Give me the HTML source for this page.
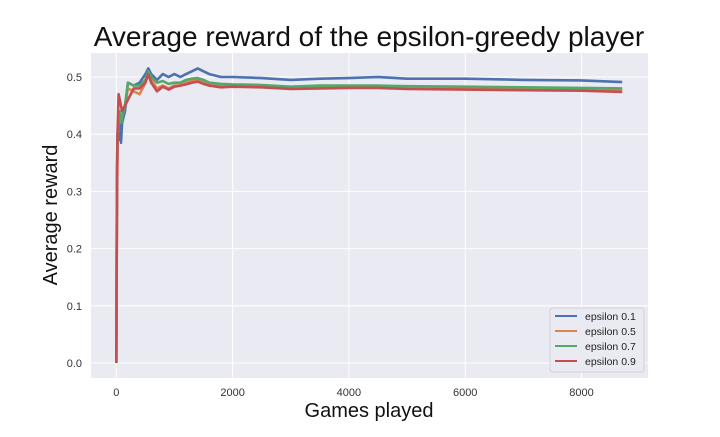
<!DOCTYPE html>
<html><head><meta charset="utf-8"><style>
body{margin:0;background:#fff;font-family:"Liberation Sans",sans-serif}
svg text{font-family:"Liberation Sans",sans-serif}
</style></head><body>
<svg id="c" width="720" height="432">
<text x="369" y="46" font-size="28" text-anchor="middle" fill="#111">Average reward of the epsilon-greedy player</text>
<rect x="91" y="53" width="557" height="325" fill="#eaeaf2"/>
<g id="grid"></g><g id="series"></g>
<text x="369" y="417" font-size="20" text-anchor="middle" fill="#111">Games played</text>
<text transform="translate(57,215) rotate(-90)" font-size="20" text-anchor="middle" fill="#111">Average reward</text>
<g id="legend">
<rect x="550" y="308" width="94" height="64" rx="3" fill="#eaeaf2" stroke="#ccc" stroke-opacity="0.8"/>
</g>
</svg>
<script>
const games=[0,10,20,40,60,80,100,150,200,300,400,500,550,600,700,800,900,1000,1100,1200,1300,1400,1500,1600,1800,2000,2500,3000,3500,4000,4500,5000,6000,7000,8000,8700];
const eps01=[0,0.33,0.40,0.39,0.42,0.385,0.42,0.44,0.49,0.485,0.49,0.505,0.515,0.505,0.495,0.505,0.50,0.505,0.50,0.505,0.51,0.515,0.51,0.505,0.50,0.50,0.498,0.495,0.497,0.498,0.50,0.497,0.497,0.495,0.494,0.491];
const eps05=[0,0.26,0.38,0.44,0.43,0.42,0.43,0.45,0.48,0.475,0.47,0.49,0.505,0.495,0.48,0.485,0.48,0.485,0.485,0.49,0.493,0.495,0.49,0.488,0.485,0.485,0.484,0.481,0.483,0.484,0.483,0.481,0.482,0.480,0.479,0.478];
const eps07=[0,0.30,0.39,0.43,0.44,0.42,0.43,0.45,0.49,0.485,0.485,0.495,0.51,0.50,0.49,0.493,0.488,0.49,0.49,0.495,0.497,0.498,0.495,0.49,0.488,0.487,0.486,0.483,0.485,0.485,0.485,0.484,0.483,0.482,0.481,0.480];
const eps09=[0,0.25,0.40,0.47,0.46,0.45,0.44,0.45,0.46,0.48,0.48,0.49,0.505,0.49,0.475,0.483,0.478,0.483,0.485,0.487,0.49,0.492,0.488,0.485,0.482,0.483,0.482,0.479,0.48,0.481,0.481,0.479,0.478,0.477,0.476,0.474];
const xTicks=[0,2000,4000,6000,8000];
const yTicks=[0.0,0.1,0.2,0.3,0.4,0.5];
const seriesNames=["epsilon 0.1","epsilon 0.5","epsilon 0.7","epsilon 0.9"];
const colors=["#4c72b0","#dd8452","#55a868","#c44e52"];
const NS="http://www.w3.org/2000/svg";
const xs=v=>116.3+v*(116.3/2000);
const ys=v=>363-v*572;
const grid=document.getElementById('grid');
function mk(tag,attrs,parent){const e=document.createElementNS(NS,tag);for(const k in attrs)e.setAttribute(k,attrs[k]);parent.appendChild(e);return e;}
xTicks.forEach(t=>{
 const l=mk('line',{x1:xs(t),x2:xs(t),y1:53,y2:378,stroke:'#fff','stroke-width':1},grid);
 
 
 const tx=mk('text',{x:xs(t),y:396,'font-size':11,'text-anchor':'middle',fill:'#333'},grid);
 tx.textContent=t;
 
 
});
yTicks.forEach(t=>{
 const l=mk('line',{x1:91,x2:648,y1:ys(t),y2:ys(t),stroke:'#fff','stroke-width':1},grid);
 
 
 const tx=mk('text',{x:82,y:ys(t)+4,'font-size':11,'text-anchor':'end',fill:'#333'},grid);
 tx.textContent=t.toFixed(1);
 
 
});
const data=[eps01,eps05,eps07,eps09];
const sg=document.getElementById('series');
data.forEach((vals,i)=>{
 const d=vals.map((v,j)=>(j?'L':'M')+xs(games[j]).toFixed(1)+','+ys(v).toFixed(1)).join(' ');
 const p=mk('path',{d:d,fill:'none',stroke:colors[i],'stroke-width':2.6,'stroke-linejoin':'round'},sg);
 
 
});
const lg=document.getElementById('legend');
seriesNames.forEach((n,i)=>{
 const y=316+i*15;
 const l=mk('line',{x1:555,x2:577,y1:y,y2:y,stroke:colors[i],'stroke-width':2},lg);
 
 
 const t=mk('text',{x:585,y:y+4,'font-size':10.5,fill:'#222'},lg);
 t.textContent=n;
 
 
});
</script>
</body></html>
